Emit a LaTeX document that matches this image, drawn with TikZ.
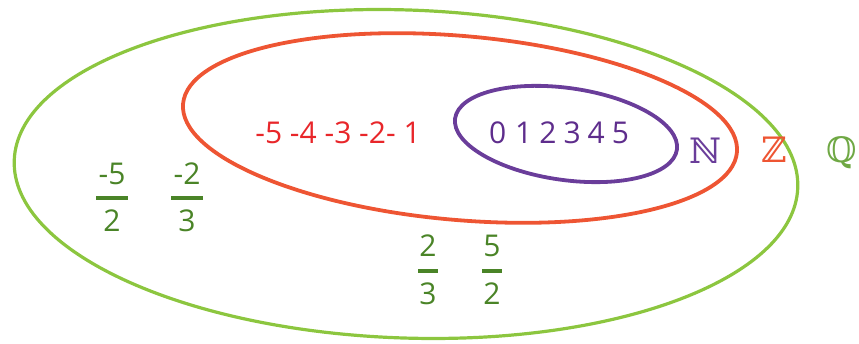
\documentclass[tikz,border=0pt]{standalone}
\usepackage{fontspec}
\setmainfont{Open Sans}
\newfontfamily\dsfont{DejaVu Serif}
\definecolor{qgreen}{HTML}{8CC63F}
\definecolor{qtext}{HTML}{6FA844}
\definecolor{zred}{HTML}{EE5533}
\definecolor{npurple}{HTML}{6A3D9A}
\definecolor{tred}{HTML}{E8262A}
\definecolor{tpurple}{HTML}{5E2D8C}
\definecolor{fgreen}{HTML}{4A8427}
\begin{document}
\begin{tikzpicture}[x=1pt,y=-1pt,
  setq/.style={draw=qgreen,line width=3.2pt},
  setz/.style={draw=zred,line width=3.8pt},
  setn/.style={draw=npurple,line width=3.8pt},
  nums/.style={font=\fontsize{30}{32}\selectfont,inner sep=0pt},
  frac/.style={font=\fontsize{30}{32}\selectfont,text=fgreen,inner sep=0pt},
  fbar/.style={draw=fgreen,line width=4pt},
  setname/.style={font=\dsfont\fontsize{35}{36}\selectfont,inner sep=0pt}]
\useasboundingbox (0,0) rectangle (859,344);
\draw[setq] (406,174) ellipse [x radius=392, y radius=164, rotate=-2];
\draw[setz] (460,128) ellipse [x radius=278, y radius=92, rotate=-5];
\draw[setn] (566,134) ellipse [x radius=112, y radius=46, rotate=-8];
\node[nums,text=tred,anchor=base] (zn) at (338,144) {-5 -4 -3 -2- 1};
\node[nums,text=tpurple,anchor=base] (nn) at (559,144) {0\hspace{9pt}1\hspace{7pt}2\hspace{7pt}3\hspace{7pt}4\hspace{7pt}5};
\node[setname,text=npurple,anchor=base] (N) at (705,164) {ℕ};
\node[setname,text=zred,anchor=base] (Z) at (774,163) {ℤ};
\node[setname,text=qtext,anchor=base] (Q) at (842,163) {ℚ};
% fractions
\node[frac,anchor=base] (a1) at (112,185) {-5};
\node[frac,anchor=base] (a2) at (112,232) {2};
\draw[fbar] (96,198) -- (128,198);
\node[frac,anchor=base] (b1) at (187,185) {-2};
\node[frac,anchor=base] (b2) at (187,232) {3};
\draw[fbar] (171,198) -- (203,198);
\node[frac,anchor=base] (c1) at (428,257) {2};
\draw[fbar] (418,271) -- (438,271);
\node[frac,anchor=base] (c2) at (428,305) {3};
\node[frac,anchor=base] (d1) at (492,257) {5};
\draw[fbar] (482,271) -- (502,271);
\node[frac,anchor=base] (d2) at (492,305) {2};
\end{tikzpicture}
\end{document}
